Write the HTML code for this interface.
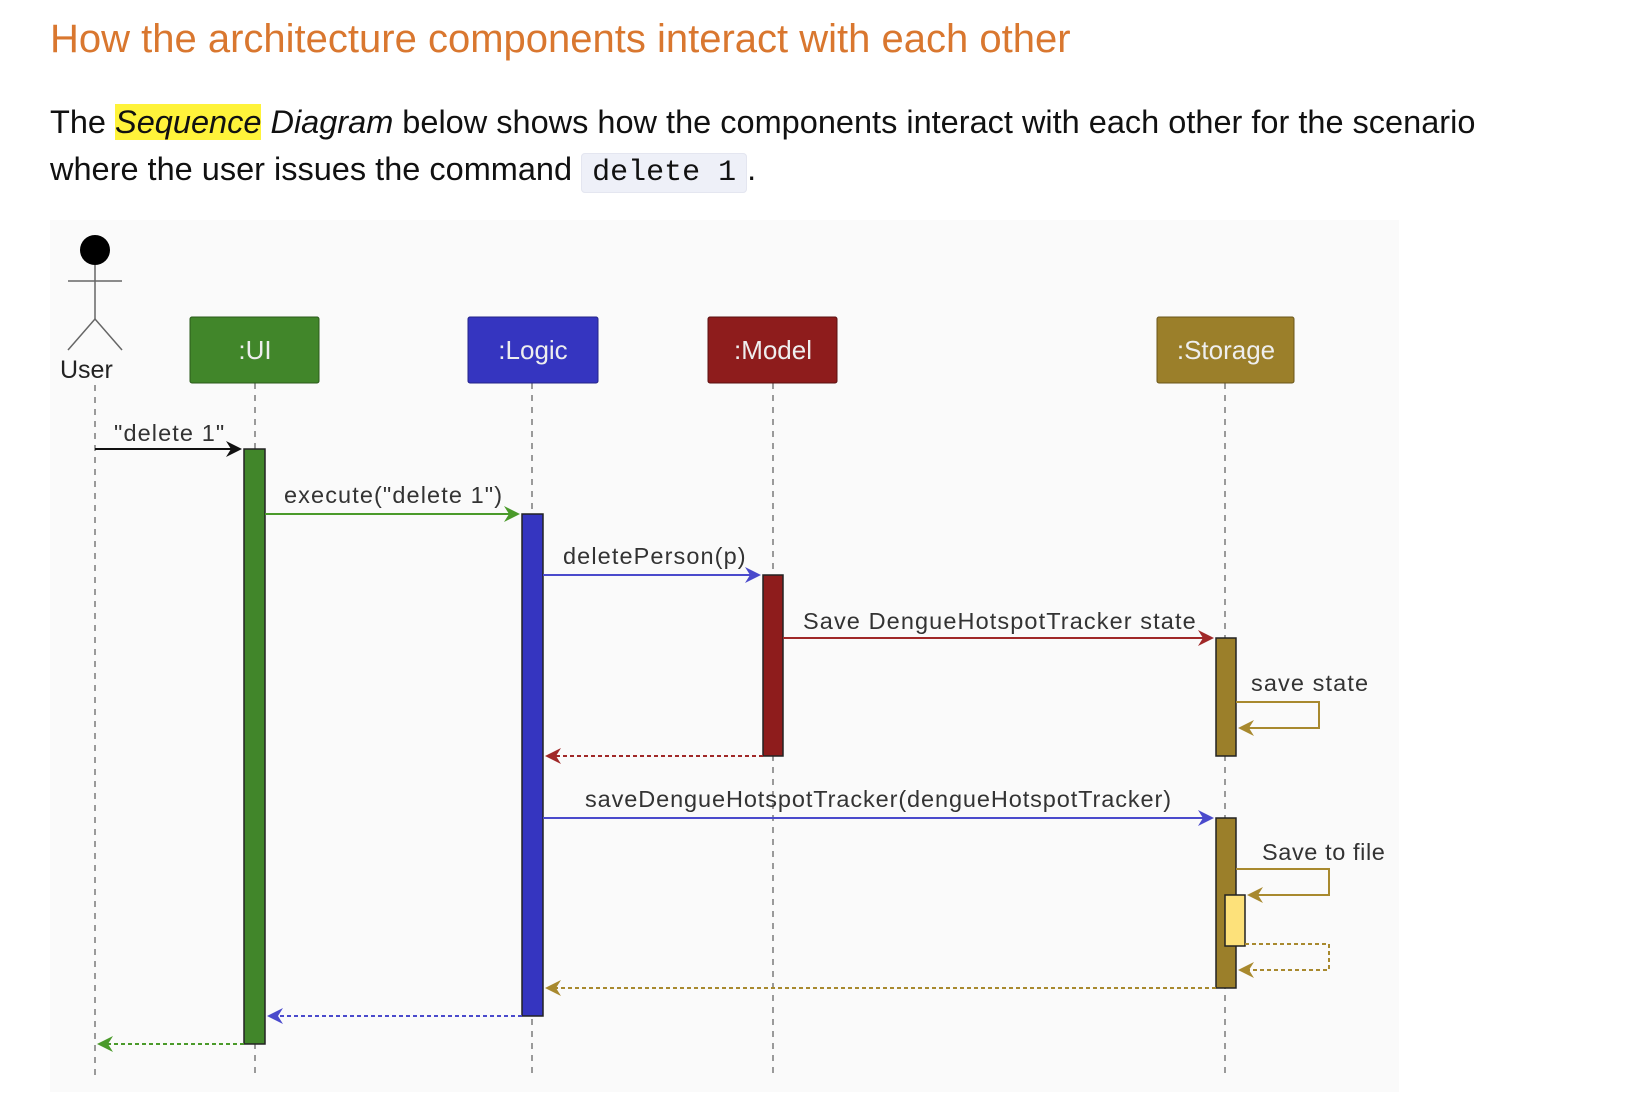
<!DOCTYPE html>
<html><head><meta charset="utf-8"><style>
body{margin:0;width:1630px;height:1108px;background:#fff;font-family:"Liberation Sans",sans-serif;position:relative;overflow:hidden}
.t{position:absolute;left:50px;top:17px;font-size:40px;color:#d9772f;white-space:nowrap}
.p{position:absolute;left:50px;font-size:32.5px;color:#111;white-space:nowrap}
.hl{background:#fff33a;font-style:italic}
code{font-family:"Liberation Mono",monospace;background:#eef0f8;border:1px solid #e4e6f0;border-radius:4px;padding:2px 10px;font-size:30px}
</style></head><body>
<div class="t">How the architecture components interact with each other</div>
<div class="p" style="top:104px">The <span class="hl">Sequence</span> <i>Diagram</i> below shows how the components interact with each other for the scenario</div>
<div class="p" style="top:151px">where the user issues the command <code>delete 1</code>.</div>
<svg style="position:absolute;left:0;top:0" width="1630" height="1108" font-family="Liberation Sans, sans-serif">
<rect x="50" y="220" width="1349" height="872" fill="#fafafa"/>
<g stroke="#666" stroke-dasharray="6,6" stroke-width="1.3">
<line x1="95" y1="385" x2="95" y2="1075"/><line x1="255" y1="383" x2="255" y2="1075"/><line x1="532" y1="383" x2="532" y2="1075"/><line x1="773" y1="383" x2="773" y2="1075"/><line x1="1225" y1="383" x2="1225" y2="1075"/>
</g>
<circle cx="95" cy="250" r="15" fill="#000"/>
<g stroke="#666" stroke-width="1.5" fill="none"><line x1="95" y1="265" x2="95" y2="319"/><line x1="68" y1="281" x2="122" y2="281"/><polyline points="68,350 95,319 122,350"/></g>
<text x="60" y="378" font-size="25" fill="#222">User</text>
<g font-size="26" fill="#eee" text-anchor="middle">
<rect x="190" y="317" width="129" height="66" fill="#41862a" stroke="#2a5a1a" rx="2"/><text x="255" y="359">:UI</text>
<rect x="468" y="317" width="130" height="66" fill="#3535c0" stroke="#222288" rx="2"/><text x="533" y="359">:Logic</text>
<rect x="708" y="317" width="129" height="66" fill="#8e1c1c" stroke="#5a1010" rx="2"/><text x="773" y="359">:Model</text>
<rect x="1157" y="317" width="137" height="66" fill="#9b7f2a" stroke="#6a561a" rx="2"/><text x="1226" y="359">:Storage</text>
</g>
<g stroke="#222" stroke-width="1.5">
<rect x="244" y="449" width="21" height="595" fill="#41862a"/>
<rect x="522" y="514" width="21" height="502" fill="#3535c0"/>
<rect x="763" y="575" width="20" height="181" fill="#8e1c1c"/>
<rect x="1216" y="638" width="20" height="118" fill="#9b7f2a"/>
<rect x="1216" y="818" width="20" height="170" fill="#9b7f2a"/>
<rect x="1225" y="895" width="20" height="51" fill="#fde17a"/>
</g>
<g stroke-width="2" fill="none">
<line x1="95" y1="449" x2="240" y2="449" stroke="#111"/>
<line x1="265" y1="514" x2="518" y2="514" stroke="#4a9a2a"/>
<line x1="543" y1="575" x2="759" y2="575" stroke="#4a4acc"/>
<line x1="783" y1="638" x2="1212" y2="638" stroke="#a02828"/>
<polyline points="1236,702 1319,702 1319,728 1240,728" stroke="#a8892e"/>
<line x1="763" y1="756" x2="547" y2="756" stroke="#a02828" stroke-dasharray="4,3"/>
<line x1="543" y1="818" x2="1212" y2="818" stroke="#4a4acc"/>
<polyline points="1236,869 1329,869 1329,895 1249,895" stroke="#a8892e"/>
<polyline points="1245,944 1329,944 1329,970 1240,970" stroke="#a8892e" stroke-dasharray="4,3"/>
<line x1="1216" y1="988" x2="547" y2="988" stroke="#a8892e" stroke-dasharray="4,3"/>
<line x1="522" y1="1016" x2="269" y2="1016" stroke="#4a4acc" stroke-dasharray="4,3"/>
<line x1="244" y1="1044" x2="99" y2="1044" stroke="#4a9a2a" stroke-dasharray="4,3"/>
</g>
<g>
<polygon points="242,449 226,441 231,449 226,457" fill="#111"/>
<polygon points="520,514 504,506 509,514 504,522" fill="#4a9a2a"/>
<polygon points="761,575 745,567 750,575 745,583" fill="#4a4acc"/>
<polygon points="1214,638 1198,630 1203,638 1198,646" fill="#a02828"/>
<polygon points="1238,728 1254,720 1249,728 1254,736" fill="#a8892e"/>
<polygon points="545,756 561,748 556,756 561,764" fill="#a02828"/>
<polygon points="1214,818 1198,810 1203,818 1198,826" fill="#4a4acc"/>
<polygon points="1247,895 1263,887 1258,895 1263,903" fill="#a8892e"/>
<polygon points="1238,970 1254,962 1249,970 1254,978" fill="#a8892e"/>
<polygon points="545,988 561,980 556,988 561,996" fill="#a8892e"/>
<polygon points="267,1016 283,1008 278,1016 283,1024" fill="#4a4acc"/>
<polygon points="97,1044 113,1036 108,1044 113,1052" fill="#4a9a2a"/>
</g>
<g font-size="23.5" fill="#333" letter-spacing="1.1">
<text x="114" y="441">"delete 1"</text>
<text x="284" y="503">execute("delete 1")</text>
<text x="563" y="564">deletePerson(p)</text>
<text x="803" y="629">Save DengueHotspotTracker state</text>
<text x="1251" y="691">save state</text>
<text x="585" y="807" letter-spacing="0.9">saveDengueHotspotTracker(dengueHotspotTracker)</text>
<text x="1262" y="860" letter-spacing="0.6">Save to file</text>
</g>
</svg>
</body></html>
